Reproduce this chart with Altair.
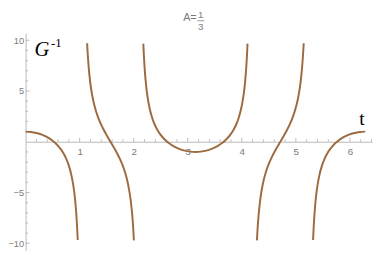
import altair as alt
import pandas as pd

# ---- curve values (five branches) ----
b1_t = [0, 0.1, 0.2, 0.3, 0.4, 0.5, 0.55, 0.6, 0.65, 0.7, 0.75, 0.8, 0.85, 0.88, 0.9, 0.92, 0.94, 0.95, 0.96, 0.964]
b1_g = [1, 0.968, 0.871, 0.704, 0.454, 0.102, -0.125, -0.395, -0.724, -1.130, -1.651, -2.349, -3.355, -4.218, -4.971, -5.950, -7.282, -8.130, -9.179, -9.67]

b2_t = [1.1385, 1.14, 1.15, 1.17, 1.2, 1.25, 1.3, 1.35, 1.4, 1.45, 1.5, 1.55, 1.571, 1.592, 1.642, 1.692, 1.742, 1.792, 1.842, 1.892, 1.942, 1.972, 1.992, 2.003]
b2_g = [9.71, 9.537, 8.595, 7.155, 5.666, 4.087, 3.051, 2.283, 1.663, 1.129, 0.645, 0.187, 0, -0.187, -0.645, -1.129, -1.663, -2.283, -3.051, -4.087, -5.666, -7.155, -8.595, -9.71]

b3_t = [2.178, 2.182, 2.192, 2.202, 2.222, 2.242, 2.262, 2.292, 2.342, 2.392, 2.442, 2.492, 2.542, 2.592, 2.642, 2.742, 2.842, 2.942, 3.042, 3.142,
        3.242, 3.342, 3.442, 3.542, 3.642, 3.692, 3.742, 3.792, 3.842, 3.892, 3.942, 3.992, 4.022, 4.042, 4.062, 4.082, 4.092, 4.102, 4.106]
b3_g = [9.67, 9.179, 8.130, 7.282, 5.950, 4.971, 4.218, 3.355, 2.349, 1.651, 1.130, 0.724, 0.395, 0.125, -0.102, -0.454, -0.704, -0.871, -0.968, -1,
        -0.968, -0.871, -0.704, -0.454, -0.102, 0.125, 0.395, 0.724, 1.130, 1.651, 2.349, 3.355, 4.218, 4.971, 5.950, 7.282, 8.130, 9.179, 9.67]

b4_t = [4.280, 4.292, 4.312, 4.342, 4.392, 4.442, 4.492, 4.542, 4.592, 4.642, 4.692, 4.712, 4.733, 4.783, 4.833, 4.883, 4.933, 4.983, 5.033, 5.083, 5.113, 5.133, 5.1435, 5.145]
b4_g = [-9.71, -8.595, -7.155, -5.666, -4.087, -3.051, -2.283, -1.663, -1.129, -0.645, -0.187, 0, 0.187, 0.645, 1.129, 1.663, 2.283, 3.051, 4.087, 5.666, 7.155, 8.595, 9.537, 9.71]

b5_t = [5.319, 5.323, 5.333, 5.343, 5.363, 5.383, 5.403, 5.433, 5.483, 5.533, 5.583, 5.633, 5.683, 5.733, 5.783, 5.883, 5.983, 6.083, 6.183, 6.283]
b5_g = [-9.67, -9.179, -8.130, -7.282, -5.950, -4.971, -4.218, -3.355, -2.349, -1.651, -1.130, -0.724, -0.395, -0.125, 0.102, 0.454, 0.704, 0.871, 0.968, 1]

# ---- ticks ----
x_major = [1, 2, 3, 4, 5, 6]
x_minor = [0.2, 0.4, 0.6, 0.8, 1.2, 1.4, 1.6, 1.8, 2.2, 2.4, 2.6, 2.8, 3.2, 3.4, 3.6, 3.8,
           4.2, 4.4, 4.6, 4.8, 5.2, 5.4, 5.6, 5.8, 6.2, 6.4]
y_major = [-10, -5, 5, 10]
y_minor = [-9, -8, -7, -6, -4, -3, -2, -1, 1, 2, 3, 4, 6, 7, 8, 9]

branches = [(b1_t, b1_g), (b2_t, b2_g), (b3_t, b3_g), (b4_t, b4_g), (b5_t, b5_g)]
rows = []
for i, (ts, gs) in enumerate(branches):
    for t, g in zip(ts, gs):
        rows.append({"branch": i, "t": t, "g": g})
df = pd.DataFrame(rows)

W, H = 354, 222
xs = alt.Scale(domain=[0, 6.41], nice=False, zero=False)
ys = alt.Scale(domain=[-10.7, 10.7], nice=False, zero=False)

AXIS_COL = "#b8b8b8"
LAB_COL = "#7a7a7a"
LINE_COL = "#9d6b40"

curves = alt.Chart(df).mark_line(color=LINE_COL, strokeWidth=2, interpolate="monotone").encode(
    x=alt.X("t:Q", scale=xs, axis=alt.Axis(
        values=x_major, offset=-H / 2, ticks=False, labelPadding=5, domainColor=AXIS_COL,
        labelColor=LAB_COL, labelFont="Liberation Sans", labelFontSize=10, title=None,
        grid=False, format="d", labelOverlap=False, labelFlush=False)),
    y=alt.Y("g:Q", scale=ys, axis=alt.Axis(
        values=y_major, ticks=False, labelPadding=2, domainColor=AXIS_COL,
        labelColor=LAB_COL, labelFont="Liberation Sans", labelFontSize=9.5, title=None,
        grid=False, labelOverlap=False, labelFlush=False,
        labelExpr="datum.value < 0 ? '\u2212' + abs(datum.value) : datum.value")),
    detail="branch:N",
)

def xticks(vals, length):
    d = pd.DataFrame({"v": vals})
    return alt.Chart(d).mark_rule(color=AXIS_COL, strokeWidth=1, y2Offset=-length).encode(
        x=alt.X("v:Q", scale=xs), y=alt.datum(0), y2=alt.datum(0))

def yticks(vals, length):
    d = pd.DataFrame({"v": vals})
    return alt.Chart(d).mark_rule(color=AXIS_COL, strokeWidth=1, x2Offset=length).encode(
        y=alt.Y("v:Q", scale=ys), x=alt.datum(0), x2=alt.datum(0))

one = pd.DataFrame({"a": [0]})

def label(text, x, y, size, font="Liberation Serif", style="normal", color="black", align="left"):
    return alt.Chart(one).mark_text(text=text, font=font, fontSize=size, fontStyle=style,
                                    color=color, align=align, baseline="alphabetic").encode(
        x=alt.value(x), y=alt.value(y))

g_lbl = label("G", 9, 23, 21, style="italic")
g_sup = label("-1", 26, 14, 13)
t_lbl = label("t", 341, 94, 20)
title_a = label("A=", 161, -12, 11, font="Liberation Sans", color=LAB_COL)
title_1 = label("1", 179, -15, 10, font="Liberation Sans", color=LAB_COL, align="center")
title_3 = label("3", 179, -3, 10, font="Liberation Sans", color=LAB_COL, align="center")
frac_bar = alt.Chart(one).mark_rule(color=LAB_COL, strokeWidth=0.8).encode(
    x=alt.value(175.5), x2=alt.value(182.5), y=alt.value(-12.7))

chart = alt.layer(
    xticks(x_minor, 2.5), xticks(x_major, 4), yticks(y_minor, 2.5), yticks(y_major, 4),
    curves, g_lbl, g_sup, t_lbl, title_a, title_1, title_3, frac_bar,
).properties(
    width=W, height=H,
    autosize=alt.AutoSizeParams(type="none"),
    padding={"left": 18, "top": 23, "right": 2, "bottom": 2},
).configure_view(stroke=None)

chart.save("out.html", embed_options={"renderer": "svg", "actions": False})
